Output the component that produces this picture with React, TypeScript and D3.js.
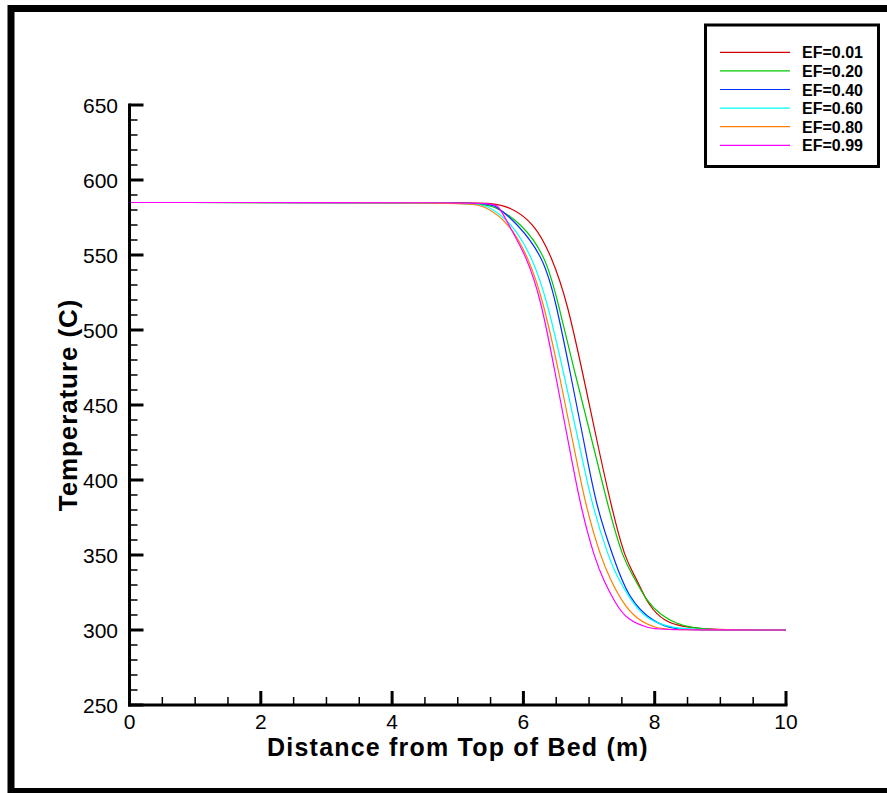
import React, { useEffect, useRef } from "react";
import * as d3 from "d3";

const seriesNames = ["EF=0.01", "EF=0.20", "EF=0.40", "EF=0.60", "EF=0.80", "EF=0.99"];
const seriesColors = ["#d40000", "#00c800", "#0030ff", "#00ffff", "#ff8000", "#ff00ff"];

const xEF001 = [0, 5.3, 5.47, 5.79, 6.17, 6.43, 6.66, 6.91, 7.13, 7.34, 7.55, 7.71, 7.91, 8.16, 8.41, 8.85, 10];
const tEF001 = [585, 585, 584.5, 582.7, 571, 549, 520, 470, 424, 382, 347, 335.5, 315.5, 305.5, 302.2, 300, 300];

const xEF020 = [0, 5.3, 5.55, 5.98, 6.34, 6.52, 6.79, 7.06, 7.29, 7.52, 7.68, 7.88, 8.09, 8.34, 8.54, 8.82, 9.0, 10];
const tEF020 = [585, 585, 583, 571, 549, 520, 470, 424, 382, 347, 335.5, 319, 310, 304, 301.8, 300.5, 300, 300];

const xEF040 = [0, 5.4, 5.55, 5.91, 6.3, 6.49, 6.72, 6.93, 7.11, 7.38, 7.6, 7.98, 8.31, 8.54, 10];
const tEF040 = [585, 585, 584, 571, 549, 520, 470, 424, 382, 347, 321, 304.7, 300.7, 300, 300];

const xEF060 = [0, 5.2, 5.45, 5.83, 6.13, 6.36, 6.62, 6.85, 7.05, 7.31, 7.43, 7.63, 7.86, 8.19, 8.49, 10];
const tEF060 = [585, 585, 583.5, 571, 549, 520, 470, 424, 382, 347, 335.5, 320, 307.8, 302.2, 300, 300];

const xEF080 = [0, 5.1, 5.4, 5.79, 6.07, 6.3, 6.55, 6.76, 6.95, 7.19, 7.33, 7.5, 7.73, 8.03, 8.24, 10];
const tEF080 = [585, 585, 583.5, 571, 549, 520, 470, 424, 382, 347, 333.3, 318.9, 306.7, 301.1, 300, 300];

const xEF099 = [0, 5.45, 5.62, 5.76, 6.05, 6.27, 6.49, 6.69, 6.87, 7.09, 7.22, 7.4, 7.58, 7.91, 8.11, 10];
const tEF099 = [585, 585, 584, 571, 549, 520, 470, 424, 382, 347, 333.3, 317.8, 306.7, 301.1, 300, 300];

const seriesX = [xEF001, xEF020, xEF040, xEF060, xEF080, xEF099];
const seriesT = [tEF001, tEF020, tEF040, tEF060, tEF080, tEF099];

const xTicks = [0, 2, 4, 6, 8, 10];
const yTicks = [250, 300, 350, 400, 450, 500, 550, 600, 650];

const FONT = "'Liberation Sans', Arial, Helvetica, sans-serif";

export default function App() {
  const ref = useRef<SVGSVGElement | null>(null);

  useEffect(() => {
    const svg = d3.select(ref.current);
    svg.selectAll("*").remove();

    const x = d3.scaleLinear().domain([0, 10]).range([129.5, 786]);
    const y = d3.scaleLinear().domain([250, 650]).range([705, 105]);

    // outer frame
    svg.append("rect")
      .attr("x", 11).attr("y", 8.5).attr("width", 900).attr("height", 783)
      .attr("fill", "white").attr("stroke", "black").attr("stroke-width", 7);

    // curves
    const line = d3.line<[number, number]>()
      .x((d) => x(d[0]))
      .y((d) => y(d[1]))
      .curve(d3.curveBasis);

    seriesX.forEach((xs, i) => {
      const pts: [number, number][] = xs.map((v, j) => [v, seriesT[i][j]]);
      svg.append("path")
        .attr("d", line(pts) as string)
        .attr("fill", "none")
        .attr("stroke", seriesColors[i])
        .attr("stroke-width", 1.2);
    });

    // axes lines
    const ax = svg.append("g");
    ax.append("line").attr("x1", x(0)).attr("x2", x(0)).attr("y1", y(650) - 1.5).attr("y2", y(250) + 1.5)
      .attr("stroke", "black").attr("stroke-width", 3);
    ax.append("line").attr("x1", x(0) - 1.5).attr("x2", x(10) + 1.5).attr("y1", y(250)).attr("y2", y(250))
      .attr("stroke", "black").attr("stroke-width", 3);

    // x ticks
    d3.range(0, 10.001, 0.5).forEach((v) => {
      const major = Math.abs(v - Math.round(v / 2) * 2) < 1e-6;
      ax.append("line")
        .attr("x1", x(v)).attr("x2", x(v))
        .attr("y1", y(250)).attr("y2", y(250) - (major ? 14 : 8))
        .attr("stroke", "black").attr("stroke-width", major ? 3 : 1.5);
    });
    xTicks.forEach((v) => {
      ax.append("text")
        .attr("x", x(v)).attr("y", 729)
        .attr("text-anchor", "middle")
        .attr("font-family", FONT).attr("font-size", 21)
        .text(String(v));
    });

    // y ticks
    d3.range(250, 650.001, 10).forEach((v) => {
      const major = Math.round(v) % 50 === 0;
      ax.append("line")
        .attr("x1", x(0)).attr("x2", x(0) + (major ? 14 : 8))
        .attr("y1", y(v)).attr("y2", y(v))
        .attr("stroke", "black").attr("stroke-width", major ? 3 : 1.5);
    });
    yTicks.forEach((v) => {
      ax.append("text")
        .attr("x", 118).attr("y", y(v) + 7.5)
        .attr("text-anchor", "end")
        .attr("font-family", FONT).attr("font-size", 21)
        .text(String(v));
    });

    // axis titles
    svg.append("text")
      .attr("x", 458).attr("y", 756)
      .attr("text-anchor", "middle")
      .attr("font-family", FONT).attr("font-size", 25).attr("font-weight", "bold")
      .attr("letter-spacing", 1.2)
      .text("Distance from Top of Bed (m)");
    svg.append("text")
      .attr("transform", "translate(77,405) rotate(-90)")
      .attr("text-anchor", "middle")
      .attr("font-family", FONT).attr("font-size", 26).attr("font-weight", "bold")
      .attr("letter-spacing", 0.9)
      .text("Temperature (C)");

    // legend
    const lg = svg.append("g");
    lg.append("rect")
      .attr("x", 705.5).attr("y", 25).attr("width", 173).attr("height", 141.5)
      .attr("fill", "white").attr("stroke", "black").attr("stroke-width", 3);
    seriesNames.forEach((name, i) => {
      const cy = 52.3 + i * 18.6;
      lg.append("line")
        .attr("x1", 720).attr("x2", 790).attr("y1", cy).attr("y2", cy)
        .attr("stroke", seriesColors[i]).attr("stroke-width", 1.2);
      lg.append("text")
        .attr("x", 802).attr("y", cy + 6)
        .attr("font-family", FONT).attr("font-size", 16).attr("font-weight", 600)
        .text(name);
    });
  }, []);

  return (
    <svg
      ref={ref}
      width={887}
      height={793}
      style={{ position: "absolute", left: 0, top: 0, background: "white" }}
    />
  );
}
